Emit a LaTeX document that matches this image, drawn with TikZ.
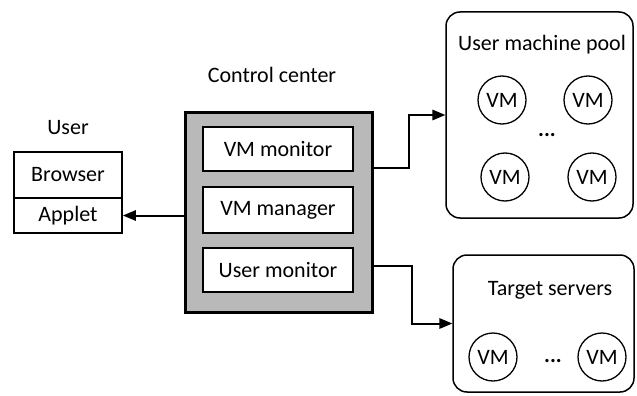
\documentclass[tikz,border=0pt]{standalone}
\usepackage{fontspec}
\setmainfont{Carlito}
\usetikzlibrary{shapes}
\usetikzlibrary{arrows}

\begin{document}
\begin{tikzpicture}[x=1pt,y=-1pt,font=\fontsize{22}{26}\selectfont,
			box/.style={rectangle,draw,line width=2pt,fill=white,inner sep=0pt},
			pool/.style={rectangle,draw,rounded corners=14pt,line width=1.5pt,inner sep=0pt},
			vm/.style={circle,draw,line width=1.3pt,minimum size=48pt,inner sep=0pt},
			arr/.style={-triangle 45,line width=2pt}
			]
			\useasboundingbox (0,0) rectangle (637,396);
			\node (userlbl) at (68,128) {User};
			\node[box,minimum width=108pt,minimum height=46pt] (browser) at (68,175) {Browser};
			\node[box,minimum width=108pt,minimum height=35pt] (applet) at (68,215.5) {Applet};
			\node (cclbl) at (272,75) {Control center};
			\node[rectangle,draw,line width=3pt,fill=gray!55,minimum width=187pt,minimum height=200pt] (cc) at (278.5,212) {};
			\node[box,minimum width=150pt,minimum height=44pt] (vmmon) at (278,149) {VM monitor};
			\node[box,minimum width=150pt,minimum height=46pt] (vmman) at (278,210) {VM manager};
			\node[box,minimum width=150pt,minimum height=44pt] (usermon) at (278,270) {User monitor};
			\node[pool,minimum width=187pt,minimum height=206pt] (machpool) at (539.5,115) {};
			\node (poollbl) at (542,45) {User machine pool};
			\node[vm] (vma) at (502,100) {VM};
			\node[vm] (vmb) at (588,100) {VM};
			\node[vm] (vmc) at (505,177) {VM};
			\node[vm] (vmd) at (592,177) {VM};
			\node (pooldots) at (547,135) {\textbf{...}};
			\node[pool,minimum width=181pt,minimum height=137pt] (target) at (543.5,323.5) {};
			\node (targetlbl) at (550,290) {Target servers};
			\node[vm] (vme) at (493,357) {VM};
			\node[vm] (vmf) at (602,357) {VM};
			\node (targetdots) at (553,361) {\textbf{...}};
			\draw[arr] (cc.west |- applet) -- (applet.east);
			\draw[arr] ([yshift=4pt]cc.east |- vmmon.south) -- ++(35,0) |- (machpool.west);
			\draw[arr] ([yshift=4pt]cc.east |- usermon) -- ++(38,0) |- (target.west);
		\end{tikzpicture}
\end{document}
